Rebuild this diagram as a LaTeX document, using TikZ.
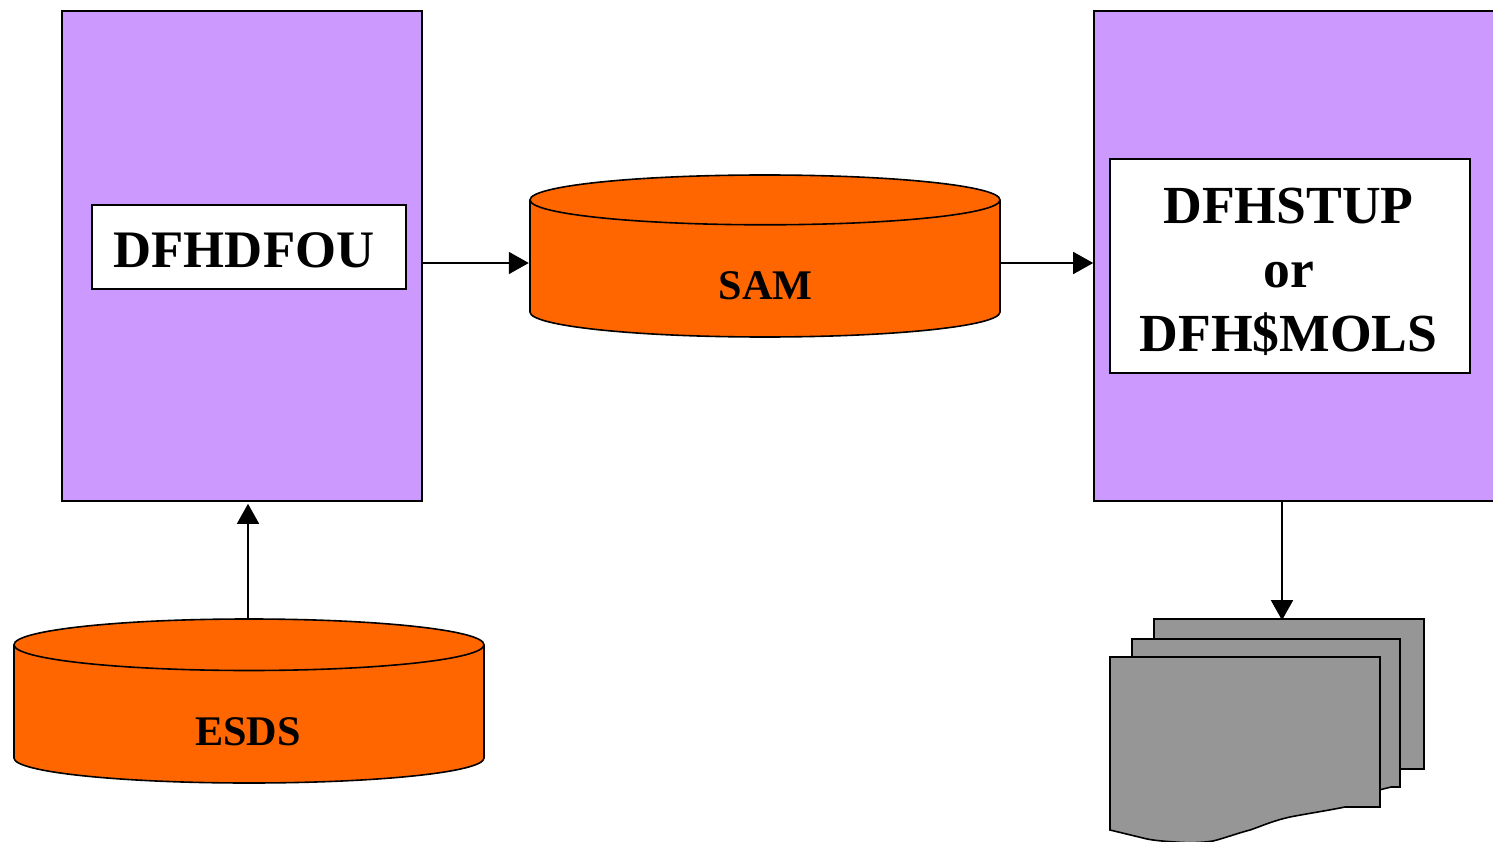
\documentclass[tikz,border=0pt]{standalone}
\usepackage{fontspec}
\setmainfont{Liberation Serif}
\usetikzlibrary{arrows.meta,positioning}
\definecolor{purp}{HTML}{CC99FF}
\definecolor{oran}{HTML}{FF6600}
\definecolor{gre}{HTML}{969696}
\tikzset{
  x=1pt,y=-1pt,
  line/.style={line width=1.6pt,black},
  purplebox/.style={line,draw,fill=purp,inner sep=0pt,minimum width=#1,minimum height=490pt},
  whitebox/.style={line,draw,fill=white,inner sep=0pt},
  boxlabel/.style={inner sep=0pt,align=center,font=\fontsize{53.6}{64}\selectfont\bfseries},
  cylhit/.style={inner sep=0pt,minimum width=470pt,minimum height=#1},
  cyllabel/.style={inner sep=0pt,font=\fontsize{42.2}{50}\selectfont\bfseries},
  cylbody/.style={line,fill=oran},
  sheet/.style={line,fill=gre},
  conn/.style={line,-{Triangle[length=20pt,width=22pt]}},
}
\newcommand{\cyl}[4]{% left x, top y, bottom y, top ellipse depth
  \draw[cylbody] (#1,#2+#4/2) .. controls (#1,#2+#4*0.22) and (#1+105,#2) .. (#1+235,#2)
    .. controls (#1+365,#2) and (#1+470,#2+#4*0.22) .. (#1+470,#2+#4/2)
    -- (#1+470,#3-25) .. controls (#1+470,#3-11) and (#1+365,#3) .. (#1+235,#3)
    .. controls (#1+105,#3) and (#1,#3-11) .. (#1,#3-25) -- cycle;
  \draw[line] (#1,#2+#4/2) .. controls (#1,#2+#4*0.78) and (#1+105,#2+#4) .. (#1+235,#2+#4)
    .. controls (#1+365,#2+#4) and (#1+470,#2+#4*0.78) .. (#1+470,#2+#4/2);
}
\begin{document}
\begin{tikzpicture}
\useasboundingbox (0,0) rectangle (1493,842);
\clip (0,0) rectangle (1493,842);
% programs
\node[purplebox=360pt] (progA) at (242,256) {};
\node[purplebox=500pt] (progB) at (1344,256) {};
\node[whitebox,minimum width=314pt,minimum height=84pt] (dfou) at (249,247) {};
\node[boxlabel,font=\fontsize{52.7}{64}\selectfont\bfseries] (dfout) at (244,250) {DFHDFOU};
\node[whitebox,minimum width=360pt,minimum height=214pt] (stup) at (1290,266) {};
\node[boxlabel] (stupt) at (1288.5,272) {DFHSTUP\\[0pt]or\\[0pt]DFH\$MOLS};
% cylinders
\cyl{530}{175}{337}{49.8}
\node[cylhit=162pt] (sam) at (765,256) {};
\node[cyllabel] (samt) at (765.5,286) {SAM};
\cyl{14}{619}{783}{51.5}
\node[cylhit=164pt] (esds) at (249,701) {};
\node[cyllabel] (esdst) at (248,732) {ESDS};
% output sheets
\node[sheet,draw,minimum width=270pt,minimum height=150pt,inner sep=0pt] (s3) at (1289,694) {};
\draw[sheet] (1132,639) -- (1400,639) -- (1400,787) -- (1391,787) -- (1375,791) -- (1340,800) -- (1132,800) -- cycle;
\draw[sheet] (1110,657) -- (1380,657) -- (1380,807) -- (1345,807)
  .. controls (1325,811) and (1305,814) .. (1290,817)
  .. controls (1272,821) and (1262,826) .. (1250,830)
  .. controls (1235,834) and (1225,838) .. (1213,841)
  .. controls (1200,843) and (1188,843) .. (1175,842)
  .. controls (1160,841) and (1150,840) .. (1143,838)
  -- (1110,830) -- cycle;
% connectors
\draw[conn] ([yshift=-7pt]progA.east) -- ([xshift=-1pt,yshift=-7pt]sam.west);
\draw[conn] ([yshift=-7pt]sam.east) -- ([yshift=-7pt]progB.west);
\draw[conn] ([xshift=6pt]progA.south |- esds.north) -- ([xshift=6pt,yshift=-2pt]progA.south);
\draw[conn] ([xshift=-7pt]progB.south -| s3.north) -- ([xshift=-7pt,yshift=-2pt]s3.north);
\end{tikzpicture}
\end{document}
